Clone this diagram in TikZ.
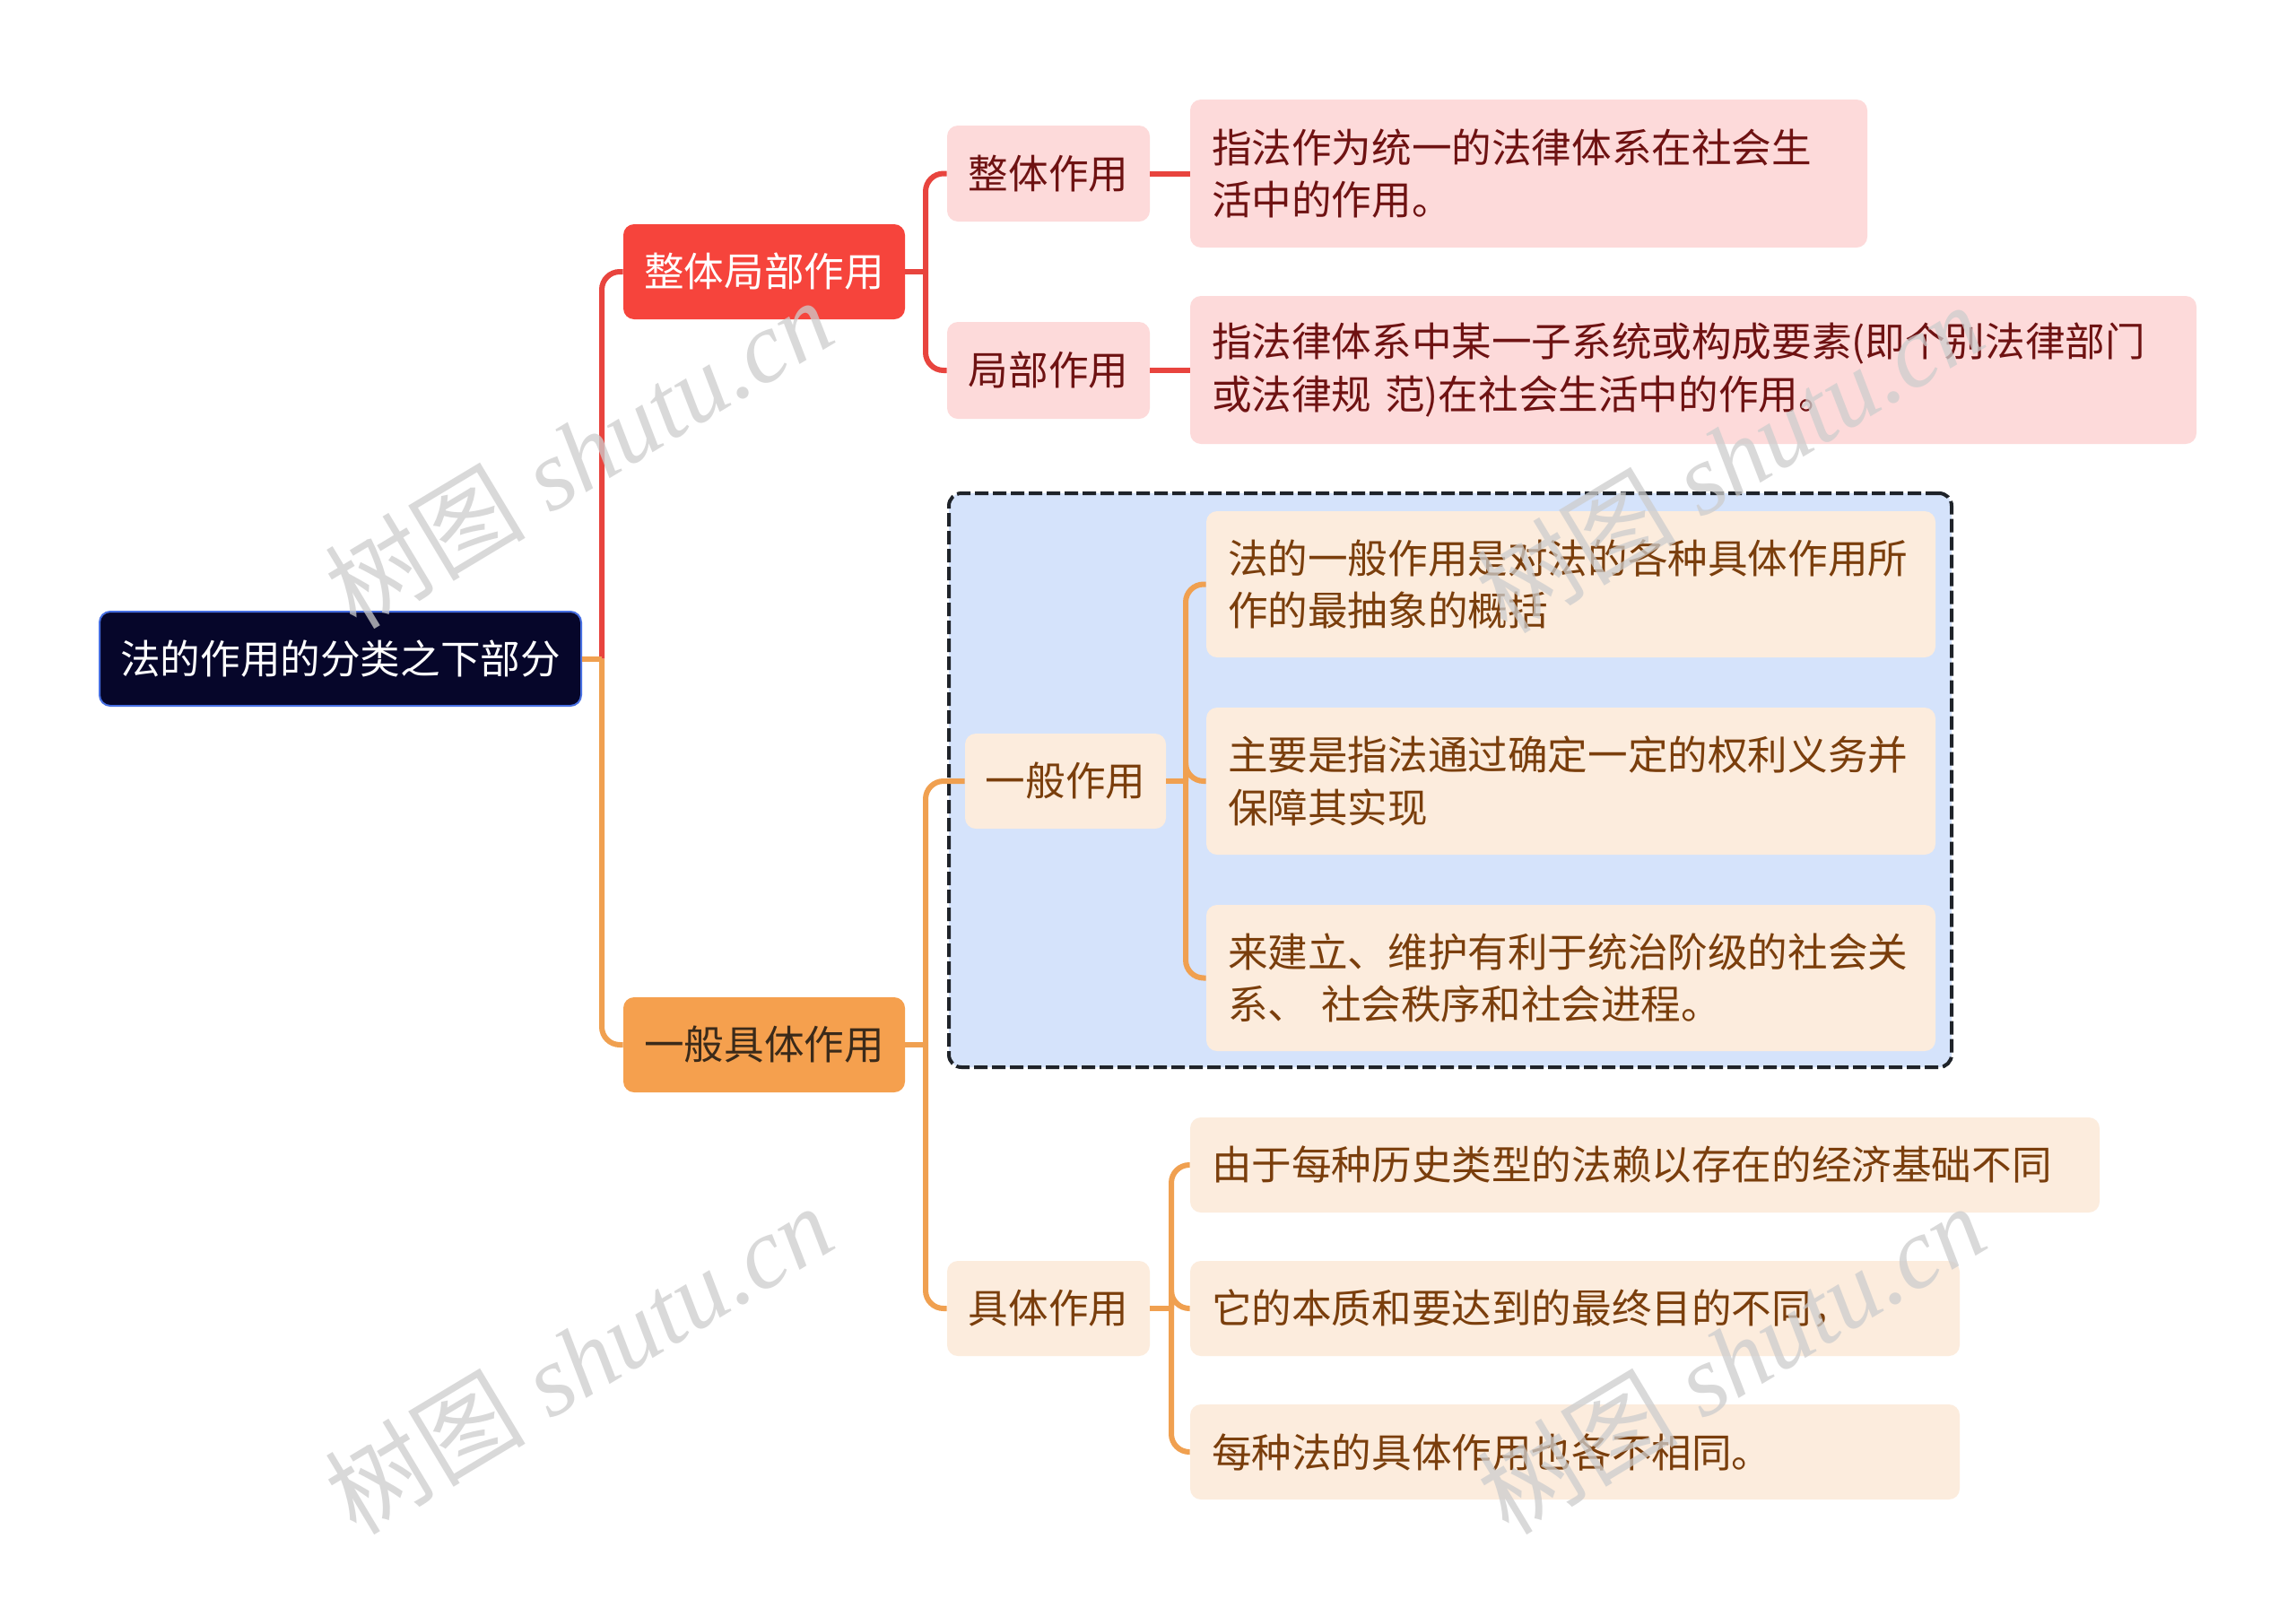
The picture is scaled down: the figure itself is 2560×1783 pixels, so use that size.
\documentclass[tikz,border=0pt]{standalone}
\usepackage{fontspec}
\setmainfont{Liberation Serif}
\newfontfamily\cjk{Noto Sans CJK SC}
\definecolor{rootfill}{RGB}{6,6,42}
\definecolor{rootdraw}{RGB}{70,110,225}
\definecolor{redfill}{RGB}{246,68,60}
\definecolor{orfill}{RGB}{245,160,78}
\definecolor{redln}{RGB}{232,68,62}
\definecolor{orln}{RGB}{240,160,80}
\definecolor{pinkfill}{RGB}{253,218,218}
\definecolor{peachfill}{RGB}{252,236,221}
\definecolor{bluefill}{RGB}{213,227,251}
\definecolor{redtxt}{RGB}{110,18,18}
\definecolor{browntxt}{RGB}{122,62,12}
\definecolor{darktxt}{RGB}{58,42,26}
\definecolor{dashc}{RGB}{31,35,41}
\definecolor{wm}{RGB}{205,205,205}
\begin{document}
\begin{tikzpicture}[x=0.5pt,y=-0.5pt,
  base/.style={rounded corners=6pt, inner sep=0pt, align=center,
    font=\cjk\fontsize{22.3pt}{29.4pt}\selectfont},
  rootbox/.style={base, fill=rootfill, draw=rootdraw, line width=1pt, text=white},
  redbox/.style={base, fill=redfill, text=white},
  orbox/.style={base, fill=orfill, text=darktxt},
  pinkbox/.style={base, fill=pinkfill, text=redtxt},
  peachbox/.style={base, fill=peachfill, text=browntxt},
  pinkleaf/.style={pinkbox, align=left, inner xsep=12pt},
  peachleaf/.style={peachbox, align=left, inner xsep=12pt},
  redc/.style={draw=redln, line width=3pt, rounded corners=10pt},
  orc/.style={draw=orln, line width=3pt, rounded corners=10pt},
  grpbox/.style={draw=dashc, fill=bluefill, line width=2pt, dash pattern=on 7.5pt off 2.5pt, rounded corners=7pt, inner sep=0pt},
  wmark/.style={text=wm, rotate=31, font=\fontsize{56pt}{60pt}\selectfont\itshape}
]
\useasboundingbox (0,0) rectangle (2560,1783);
\fill[white] (0,0) rectangle (2560,1783);

% group box
\node[grpbox, minimum width=559pt, minimum height=320pt] (grp) at (1617,870) {};

% nodes
\node[rootbox, minimum width=268.5pt, minimum height=52.5pt] (root) at (379.5,734.5) {法的作用的分类之下部分};
\node[redbox, minimum width=157pt, minimum height=53pt] (zjb) at (852,303) {整体局部作用};
\node[orbox, minimum width=157pt, minimum height=53pt] (ybj) at (852,1165) {一般具体作用};

\node[pinkbox, minimum width=113pt, minimum height=53.5pt] (zt) at (1169,193.5) {整体作用};
\node[pinkbox, minimum width=113pt, minimum height=54pt] (jb) at (1169,413) {局部作用};
\node[pinkleaf, text width=353.5pt, minimum height=82.5pt] (l1) at (1704.5,193.5) {指法作为统一的法律体系在社会生\\活中的作用。};
\node[pinkleaf, text width=537pt, minimum height=82.5pt] (l2) at (1888,412.5) {指法律体系中某一子系统或构成要素(即个别法律部门\\或法律规 范)在社会生活中的作用。};

\node[peachbox, minimum width=112pt, minimum height=53pt] (yb) at (1188,871) {一般作用};
\node[peachleaf, text width=382.5pt, minimum height=81.5pt] (g1) at (1751.5,651.5) {法的一般作用是对法的各种具体作用所\\作的最抽象的概括};
\node[peachleaf, text width=382.5pt, minimum height=82pt] (g2) at (1751.5,871) {主要是指法通过确定一定的权利义务并\\保障其实现};
\node[peachleaf, text width=382.5pt, minimum height=81.5pt] (g3) at (1751.5,1090.5) {来建立、维护有利于统治阶级的社会关\\系、 社会秩序和社会进程。};

\node[peachbox, minimum width=113pt, minimum height=53pt] (jt) at (1169,1459) {具体作用};
\node[peachleaf, text width=483pt, minimum height=53pt] (k1) at (1834,1299) {由于每种历史类型的法赖以存在的经济基础不同};
\node[peachleaf, text width=405pt, minimum height=53pt] (k2) at (1756,1459) {它的本质和要达到的最终目的不同，};
\node[peachleaf, text width=405pt, minimum height=53pt] (k3) at (1756,1619) {每种法的具体作用也各不相同。};

% branch points
\coordinate (b0) at (671,734.5);
\coordinate (b1) at (1032,303);
\coordinate (b2) at (1032,1165);
\coordinate (b3) at (1322,871);
\coordinate (b4) at (1306,1459);

% connectors
\draw[redc] (b0) |- (zjb.west);
\draw[orc] (b0) |- (ybj.west);
\draw[orc] (root.east) -- (b0);

\draw[redc] (zjb.east) -- (b1);
\draw[redc] (b1) |- (zt.west);
\draw[redc] (b1) |- (jb.west);
\draw[redc] (zt.east) -- (l1.west |- zt.east);
\draw[redc] (jb.east) -- (l2.west |- jb.east);

\draw[orc] (ybj.east) -- (b2);
\draw[orc] (b2) |- (yb.west);
\draw[orc] (b2) |- (jt.west);

\draw[orc] (yb.east) -- (b3);
\draw[orc] (b3) |- (g1.west);
\draw[orc] (b3) |- (g2.west);
\draw[orc] (b3) |- (g3.west);

\draw[orc] (jt.east) -- (b4);
\draw[orc] (b4) |- (k1.west);
\draw[orc] (b4) |- (k2.west);
\draw[orc] (b4) |- (k3.west);

% watermarks
\node[wmark, opacity=0.75] (w1) at (645,505) {{\cjk\upshape 树图} shutu.cn};
\node[wmark, opacity=0.75] (w2) at (645,1515) {{\cjk\upshape 树图} shutu.cn};
\node[wmark, opacity=0.75] (w3) at (1928,510) {{\cjk\upshape 树图} shutu.cn};
\node[wmark, opacity=0.75] (w4) at (1930,1515) {{\cjk\upshape 树图} shutu.cn};
\end{tikzpicture}
\end{document}
